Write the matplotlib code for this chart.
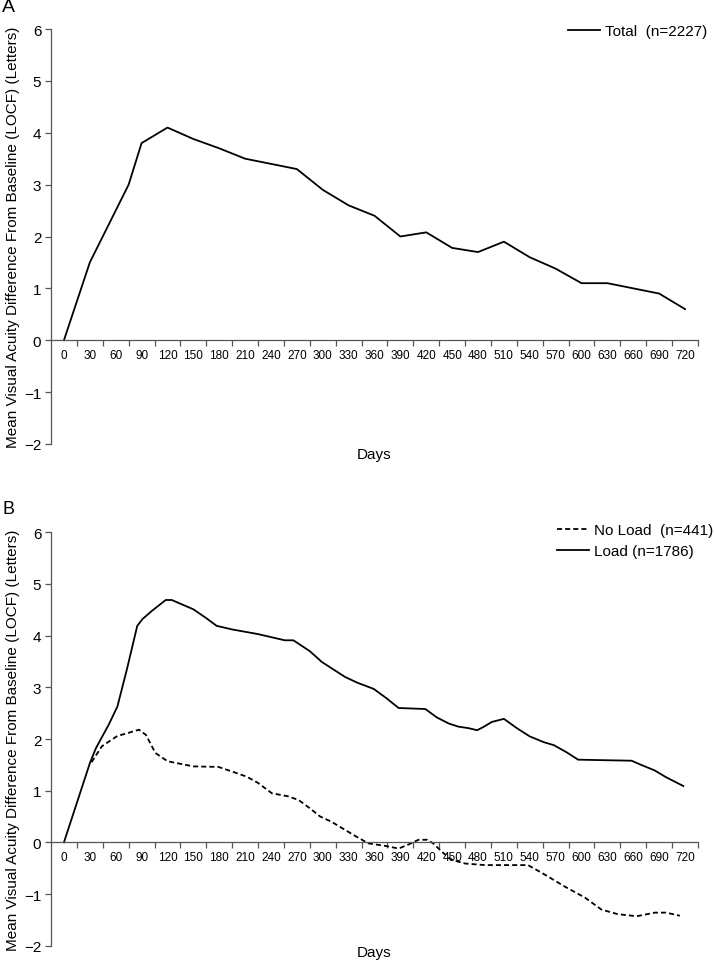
import matplotlib.pyplot as plt
from matplotlib.ticker import FixedLocator

plt.rcParams['font.family'] = ['Liberation Sans', 'DejaVu Sans']

# panel A: total population
total_days = [0, 30, 75, 90, 120, 150, 180, 210, 240, 270, 300, 330, 360, 390, 420,
              450, 480, 510, 540, 570, 600, 630, 660, 690, 720]
total_va = [0.0, 1.5, 3.0, 3.8, 4.1, 3.88, 3.7, 3.5, 3.4, 3.3, 2.9, 2.6, 2.4, 2.0, 2.08,
            1.78, 1.7, 1.9, 1.6, 1.38, 1.1, 1.1, 1.0, 0.9, 0.6]

# panel B: load vs no load
load_days = [0, 30, 37, 52, 62, 73, 85, 91, 102, 118, 125, 150, 164, 177, 195, 225,
             256, 266, 285, 299, 312, 326, 340, 359, 373, 388, 419, 432, 446, 457,
             469, 479, 486, 496, 510, 525, 540, 556, 568, 583, 596, 626, 658, 669,
             685, 698, 718]
load_va = [0.0, 1.53, 1.82, 2.28, 2.63, 3.35, 4.19, 4.32, 4.48, 4.69, 4.69, 4.51,
           4.35, 4.19, 4.12, 4.03, 3.91, 3.91, 3.7, 3.49, 3.35, 3.2, 3.09, 2.97, 2.8,
           2.6, 2.58, 2.42, 2.3, 2.24, 2.21, 2.17, 2.23, 2.33, 2.39, 2.21, 2.05, 1.94,
           1.88, 1.74, 1.6, 1.59, 1.58, 1.5, 1.39, 1.26, 1.09]

noload_days = [32, 44, 62, 71, 87, 95, 106, 120, 150, 179, 195, 212, 225, 241, 260,
               272, 285, 297, 310, 326, 339, 353, 373, 388, 401, 411, 421, 428, 440,
               450, 465, 488, 538, 558, 581, 604, 623, 642, 664, 685, 698, 714]
noload_va = [1.55, 1.86, 2.06, 2.1, 2.18, 2.08, 1.73, 1.57, 1.47, 1.46, 1.37, 1.27,
             1.15, 0.95, 0.89, 0.82, 0.66, 0.5, 0.4, 0.24, 0.11, -0.02, -0.07, -0.12,
             -0.03, 0.05, 0.05, -0.02, -0.21, -0.34, -0.41, -0.44, -0.44, -0.63, -0.86,
             -1.07, -1.3, -1.39, -1.43, -1.36, -1.36, -1.42]

day_labels = list(range(0, 721, 30))
ylabel = 'Mean Visual Acuity Difference From Baseline (LOCF) (Letters)'
axis_col = '#555555'

fig = plt.figure(figsize=(7.14, 9.62), dpi=100)
ax_a = fig.add_axes([51 / 714, 1 - 445 / 962, 647 / 714, 415 / 962])
ax_b = fig.add_axes([51 / 714, 1 - 946.7 / 962, 647 / 714, 413.4 / 962])


def style_axis(ax, days_y):
    ax.set_xlim(-15, 735)
    ax.set_ylim(-2, 6)
    ax.spines['top'].set_visible(False)
    ax.spines['right'].set_visible(False)
    ax.spines['bottom'].set_position(('data', 0))
    ax.spines['bottom'].set_color(axis_col)
    ax.spines['left'].set_color(axis_col)
    ax.spines['bottom'].set_linewidth(0.9)
    ax.spines['left'].set_linewidth(0.9)
    ax.set_xticks(day_labels)
    ax.set_xticklabels([str(d) for d in day_labels], fontsize=8.5)
    ax.tick_params(axis='x', which='major', length=0, pad=6)
    ax.xaxis.set_minor_locator(FixedLocator(list(range(15, 736, 30))))
    ax.tick_params(axis='x', which='minor', length=4, direction='out',
                   color=axis_col, width=0.9)
    ax.set_yticks(range(-2, 7))
    ax.set_yticklabels(['\u22122', '\u22121', '0', '1', '2', '3', '4', '5', '6'],
                       fontsize=11)
    ax.tick_params(axis='y', length=4, direction='out', color=axis_col, width=0.9, pad=3)
    ax.text(0.5, days_y, 'Days', transform=ax.transAxes, ha='center', va='center',
            fontsize=11)
    ax.set_ylabel(ylabel, fontsize=11, labelpad=3)


style_axis(ax_a, -0.024)
style_axis(ax_b, -0.016)

ax_a.plot(total_days, total_va, color='black', lw=1.3, label='Total  (n=2227)')
ax_a.legend(loc='upper right', bbox_to_anchor=(1.036, 1.045), frameon=False,
            fontsize=11, handlelength=2.1, handletextpad=0.35)

ax_b.plot(noload_days, noload_va, color='black', lw=1.3, dashes=(2.8, 1.7),
          label='No Load  (n=441)')
ax_b.plot(load_days, load_va, color='black', lw=1.3, label='Load (n=1786)')
ax_b.legend(loc='upper right', bbox_to_anchor=(1.045, 1.055), frameon=False,
            fontsize=11, handlelength=2.1, handletextpad=0.35, labelspacing=0.45)

fig.text(0.003, 1 - 7 / 962, 'A', fontsize=14, ha='left', va='center')
fig.text(0.003, 1 - 509 / 962, 'B', fontsize=13, ha='left', va='center')

fig.savefig('out.png', dpi=100)
